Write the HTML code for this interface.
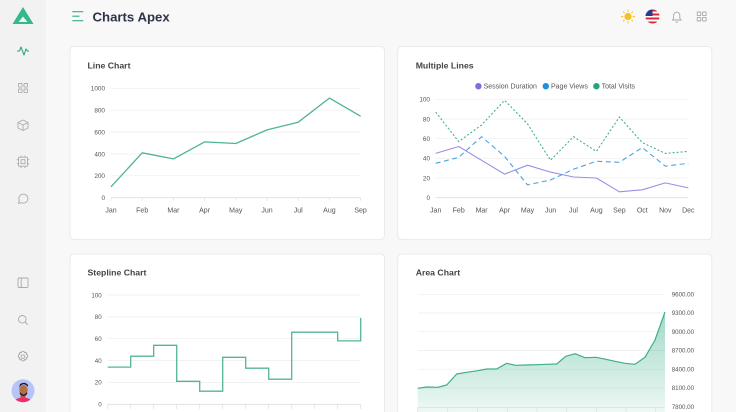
<!DOCTYPE html>
<html><head><meta charset="utf-8"><style>
html,body{margin:0;padding:0;background:#f8f8f8;width:736px;height:412px;overflow:hidden;font-family:"Liberation Sans",sans-serif;}
svg{display:block;}
</style></head><body>
<svg width="736" height="412" viewBox="0 0 736 412" xmlns="http://www.w3.org/2000/svg" font-family="Liberation Sans, sans-serif">
<defs>
<linearGradient id="ag" x1="0" y1="0" x2="0" y2="1">
<stop offset="0" stop-color="#2eaa84" stop-opacity="0.45"/>
<stop offset="1" stop-color="#2eaa84" stop-opacity="0.08"/>
</linearGradient>
<clipPath id="av"><circle cx="23" cy="390.7" r="11.5"/></clipPath>
</defs>
<rect x="0" y="0" width="736" height="412" fill="#f8f8f8"/>
<!-- sidebar -->
<rect x="0" y="0" width="46" height="412" fill="#f2f2f2"/>
<!-- logo -->
<polygon points="23,7 33.5,24 12.5,24" fill="#33b98d"/>
<polygon points="23,16.5 27.5,22 18.5,22" fill="#f2f2f2"/>
<!-- sidebar icons -->
<polyline points="17,51 19.5,51 21,47 24,55 26,49 27.5,51 29,51" fill="none" stroke="#2fa983" stroke-width="1.1" stroke-linejoin="round"/>
<g fill="none" stroke="#aaa" stroke-width="0.9">
<rect x="18.5" y="83.5" width="3.6" height="3.6" rx="0.6"/><rect x="24" y="83.5" width="3.6" height="3.6" rx="0.6"/>
<rect x="18.5" y="89" width="3.6" height="3.6" rx="0.6"/><rect x="24" y="89" width="3.6" height="3.6" rx="0.6"/>
<polygon points="23,120 28,122.5 28,128 23,130.5 18,128 18,122.5"/><polyline points="18,122.5 23,125 28,122.5"/><line x1="23" y1="125" x2="23" y2="130.5"/>
<rect x="18.5" y="157.2" width="9" height="9" rx="1"/><rect x="21" y="159.7" width="4" height="4"/>
<line x1="21" y1="155.5" x2="21" y2="157.2"/><line x1="25" y1="155.5" x2="25" y2="157.2"/><line x1="21" y1="166.2" x2="21" y2="168"/><line x1="25" y1="166.2" x2="25" y2="168"/>
<line x1="16.8" y1="159.7" x2="18.5" y2="159.7"/><line x1="16.8" y1="163.7" x2="18.5" y2="163.7"/><line x1="27.5" y1="159.7" x2="29.2" y2="159.7"/><line x1="27.5" y1="163.7" x2="29.2" y2="163.7"/>
<path d="M18.5,203.5 L19.3,200.5 A4.5,4.5 0 1 1 21.3,202.6 Z"/>
<rect x="18" y="278" width="10" height="9.5" rx="1.2"/><line x1="21.2" y1="278" x2="21.2" y2="287.5"/>
<circle cx="22.3" cy="319.3" r="3.8"/><line x1="25" y1="322" x2="27.8" y2="324.8"/>
<circle cx="23" cy="356.7" r="1.8"/>
<path d="M23,351.3 l1.2,0.3 0.4,1.2 1.2,-0.4 0.9,0.9 -0.4,1.2 1.2,0.4 0.3,1.2 -0.3,1.2 -1.2,0.4 0.4,1.2 -0.9,0.9 -1.2,-0.4 -0.4,1.2 -1.2,0.3 -1.2,-0.3 -0.4,-1.2 -1.2,0.4 -0.9,-0.9 0.4,-1.2 -1.2,-0.4 -0.3,-1.2 0.3,-1.2 1.2,-0.4 -0.4,-1.2 0.9,-0.9 1.2,0.4 0.4,-1.2 z"/>
</g>
<!-- avatar -->
<circle cx="23" cy="390.7" r="11.5" fill="#b7c4f6"/>
<g clip-path="url(#av)">
<ellipse cx="23" cy="404" rx="10" ry="6.5" fill="#f52a6a"/>
<rect x="20.5" y="393" width="5" height="5" fill="#a8613b"/>
<ellipse cx="23.5" cy="390" rx="4.2" ry="5" fill="#b86d42"/>
<path d="M19,388 q4,-7 9,-1 l0,-2 q-3,-4 -8,-1 z" fill="#1e1e2a"/>
<path d="M20,392 q3.5,5 7,0 l0.3,2 q-3.6,4 -7.6,0 z" fill="#1e1e2a"/>
</g>
<!-- header -->
<g stroke="#37a98a" stroke-width="1.1">
<line x1="72.3" y1="11.7" x2="83.3" y2="11.7"/>
<line x1="72.3" y1="16.2" x2="79.5" y2="16.2"/>
<line x1="72.3" y1="20.7" x2="83.3" y2="20.7"/>
</g>
<text x="92.5" y="21.6" font-size="13.2" font-weight="700" fill="#2f3349">Charts Apex</text>
<!-- sun -->
<circle cx="628" cy="16.5" r="3.6" fill="#f9bd25"/>
<g stroke="#f9bd25" stroke-width="1" stroke-linecap="round">
<line x1="628" y1="10" x2="628" y2="11.3"/><line x1="628" y1="21.7" x2="628" y2="23"/>
<line x1="621.5" y1="16.5" x2="622.8" y2="16.5"/><line x1="633.2" y1="16.5" x2="634.5" y2="16.5"/>
<line x1="623.4" y1="11.9" x2="624.3" y2="12.8"/><line x1="631.7" y1="20.2" x2="632.6" y2="21.1"/>
<line x1="623.4" y1="21.1" x2="624.3" y2="20.2"/><line x1="631.7" y1="12.8" x2="632.6" y2="11.9"/>
</g>
<!-- flag -->
<clipPath id="fl"><circle cx="652.5" cy="16.5" r="7"/></clipPath>
<g clip-path="url(#fl)">
<rect x="645" y="9" width="15" height="15" fill="#fff"/>
<rect x="645" y="9.5" width="15" height="2" fill="#d8283c"/>
<rect x="645" y="13.5" width="15" height="2" fill="#d8283c"/>
<rect x="645" y="17.5" width="15" height="2" fill="#d8283c"/>
<rect x="645" y="21.5" width="15" height="2.5" fill="#d8283c"/>
<rect x="645" y="9" width="7.5" height="7" fill="#2b3a8c"/>
</g>
<!-- bell -->
<g fill="none" stroke="#a8a8b4" stroke-width="0.9">
<path d="M672.5,20 h8.5 l-1.2,-1.6 v-3.2 a3.1,3.1 0 0 0 -6.2,0 v3.2 z"/>
<path d="M675.7,21.6 a1.2,1.2 0 0 0 2.2,0"/>
<rect x="697.2" y="12" width="3.6" height="3.6" rx="0.5"/><rect x="702.6" y="12" width="3.6" height="3.6" rx="0.5"/>
<rect x="697.2" y="17.4" width="3.6" height="3.6" rx="0.5"/><rect x="702.6" y="17.4" width="3.6" height="3.6" rx="0.5"/>
</g>

<!-- cards -->
<g fill="#fff" stroke="#e6e6e8" stroke-width="0.8">
<rect x="70" y="46.5" width="314.5" height="193" rx="4"/>
<rect x="397.8" y="46.5" width="314" height="193" rx="4"/>
<rect x="70" y="254" width="314.5" height="170" rx="4"/>
<rect x="397.8" y="254" width="314" height="170" rx="4"/>
</g>
<g font-size="8.7" font-weight="700" fill="#444">
<text x="87.5" y="68.3">Line Chart</text>
<text x="415.7" y="68.3">Multiple Lines</text>
<text x="87.5" y="275.3">Stepline Chart</text>
<text x="415.7" y="275.3">Area Chart</text>
</g>

<!-- LINE CHART -->
<g stroke="#ededed" stroke-width="0.7">
<line x1="111" y1="88.3" x2="360.6" y2="88.3"/>
<line x1="111" y1="110.2" x2="360.6" y2="110.2"/>
<line x1="111" y1="132.1" x2="360.6" y2="132.1"/>
<line x1="111" y1="154" x2="360.6" y2="154"/>
<line x1="111" y1="175.8" x2="360.6" y2="175.8"/>
</g>
<line x1="111" y1="197.7" x2="360.6" y2="197.7" stroke="#dedede" stroke-width="0.8"/>
<g stroke="#dedede" stroke-width="0.7">
<line x1="111" y1="197.7" x2="111" y2="200.7"/><line x1="142.2" y1="197.7" x2="142.2" y2="200.7"/><line x1="173.4" y1="197.7" x2="173.4" y2="200.7"/><line x1="204.6" y1="197.7" x2="204.6" y2="200.7"/><line x1="235.8" y1="197.7" x2="235.8" y2="200.7"/><line x1="267" y1="197.7" x2="267" y2="200.7"/><line x1="298.2" y1="197.7" x2="298.2" y2="200.7"/><line x1="329.4" y1="197.7" x2="329.4" y2="200.7"/><line x1="360.6" y1="197.7" x2="360.6" y2="200.7"/>
</g>
<g font-size="6.4" fill="#555" text-anchor="end">
<text x="105" y="90.6">1000</text><text x="105" y="112.5">800</text><text x="105" y="134.4">600</text><text x="105" y="156.3">400</text><text x="105" y="178.1">200</text><text x="105" y="200">0</text>
</g>
<g font-size="7" fill="#555" text-anchor="middle">
<text x="111" y="212.5">Jan</text><text x="142.2" y="212.5">Feb</text><text x="173.4" y="212.5">Mar</text><text x="204.6" y="212.5">Apr</text><text x="235.8" y="212.5">May</text><text x="267" y="212.5">Jun</text><text x="298.2" y="212.5">Jul</text><text x="329.4" y="212.5">Aug</text><text x="360.6" y="212.5">Sep</text>
</g>
<polyline points="111,186.8 142.2,152.8 173.4,158.9 204.6,141.9 235.8,143.5 267,129.9 298.2,122.2 329.4,98.1 360.6,116.2" fill="none" stroke="#4fb594" stroke-width="1.3" stroke-linejoin="round"/>

<!-- MULTIPLE LINES -->
<g stroke="#efefef" stroke-width="0.7">
<line x1="435.7" y1="99.3" x2="688.3" y2="99.3"/>
<line x1="435.7" y1="119" x2="688.3" y2="119"/>
<line x1="435.7" y1="138.7" x2="688.3" y2="138.7"/>
<line x1="435.7" y1="158.4" x2="688.3" y2="158.4"/>
<line x1="435.7" y1="178" x2="688.3" y2="178"/>
</g>
<line x1="435.7" y1="197.7" x2="688.3" y2="197.7" stroke="#dedede" stroke-width="0.8"/>
<g font-size="6.4" fill="#555" text-anchor="end">
<text x="430" y="101.6">100</text><text x="430" y="121.3">80</text><text x="430" y="141">60</text><text x="430" y="160.7">40</text><text x="430" y="180.3">20</text><text x="430" y="200">0</text>
</g>
<g font-size="7" fill="#555" text-anchor="middle">
<text x="435.7" y="212.5">Jan</text><text x="458.7" y="212.5">Feb</text><text x="481.6" y="212.5">Mar</text><text x="504.6" y="212.5">Apr</text><text x="527.5" y="212.5">May</text><text x="550.5" y="212.5">Jun</text><text x="573.5" y="212.5">Jul</text><text x="596.4" y="212.5">Aug</text><text x="619.4" y="212.5">Sep</text><text x="642.3" y="212.5">Oct</text><text x="665.3" y="212.5">Nov</text><text x="688.3" y="212.5">Dec</text>
</g>
<!-- legend -->
<circle cx="478.4" cy="86.2" r="3.2" fill="#7d6fe3"/>
<circle cx="545.8" cy="86.2" r="3.2" fill="#1e90e0"/>
<circle cx="596.4" cy="86.2" r="3.2" fill="#27a380"/>
<g font-size="7" fill="#555">
<text x="483.6" y="88.7">Session Duration</text>
<text x="551" y="88.7">Page Views</text>
<text x="601.6" y="88.7">Total Visits</text>
</g>
<polyline points="435.7,153.4 458.7,146.5 481.6,160.3 504.6,174.1 527.5,165.2 550.5,172.1 573.5,177 596.4,178 619.4,191.8 642.3,189.8 665.3,182.9 688.3,187.9" fill="none" stroke="#9a8fe6" stroke-width="1.1" stroke-linejoin="round"/>
<polyline points="435.7,163.3 458.7,157.4 481.6,136.7 504.6,156.4 527.5,184.9 550.5,180 573.5,169.2 596.4,161.3 619.4,162.3 642.3,147.5 665.3,166.2 688.3,163.3" fill="none" stroke="#4aa5e3" stroke-width="1.1" stroke-dasharray="5 3.5"/>
<polyline points="435.7,112.1 458.7,141.6 481.6,124.9 504.6,100.3 527.5,123.9 550.5,160.3 573.5,136.7 596.4,151.4 619.4,117 642.3,142.6 665.3,153.4 688.3,151.4" fill="none" stroke="#45b18f" stroke-width="1.1" stroke-dasharray="2 2"/>

<!-- STEPLINE -->
<g stroke="#ededed" stroke-width="0.7">
<line x1="107.7" y1="295" x2="360.7" y2="295"/>
<line x1="107.7" y1="316.9" x2="360.7" y2="316.9"/>
<line x1="107.7" y1="338.7" x2="360.7" y2="338.7"/>
<line x1="107.7" y1="360.6" x2="360.7" y2="360.6"/>
<line x1="107.7" y1="382.4" x2="360.7" y2="382.4"/>
</g>
<line x1="107.7" y1="404.3" x2="360.7" y2="404.3" stroke="#dedede" stroke-width="0.8"/>
<g stroke="#dedede" stroke-width="0.7">
<line x1="107.7" y1="404.3" x2="107.7" y2="409"/><line x1="130.7" y1="404.3" x2="130.7" y2="409"/><line x1="153.7" y1="404.3" x2="153.7" y2="409"/><line x1="176.7" y1="404.3" x2="176.7" y2="409"/><line x1="199.7" y1="404.3" x2="199.7" y2="409"/><line x1="222.7" y1="404.3" x2="222.7" y2="409"/><line x1="245.7" y1="404.3" x2="245.7" y2="409"/><line x1="268.7" y1="404.3" x2="268.7" y2="409"/><line x1="291.7" y1="404.3" x2="291.7" y2="409"/><line x1="314.7" y1="404.3" x2="314.7" y2="409"/><line x1="337.7" y1="404.3" x2="337.7" y2="409"/><line x1="360.7" y1="404.3" x2="360.7" y2="409"/>
</g>
<g font-size="6.2" fill="#555" text-anchor="end">
<text x="101.7" y="297.3">100</text><text x="101.7" y="319.2">80</text><text x="101.7" y="341">60</text><text x="101.7" y="362.9">40</text><text x="101.7" y="384.7">20</text><text x="101.7" y="406.6">0</text>
</g>
<path d="M107.7,367.1 H130.7 V356.2 H153.7 V345.3 H176.7 V381.3 H199.7 V391.2 H222.7 V357.3 H245.7 V368.2 H268.7 V379.2 H291.7 V332.2 H337.7 V340.9 H360.7 V317.9" fill="none" stroke="#54b597" stroke-width="1.3"/>

<!-- AREA CHART -->
<g stroke="#ededed" stroke-width="0.7">
<line x1="417.7" y1="294.3" x2="665" y2="294.3"/>
<line x1="417.7" y1="313" x2="665" y2="313"/>
<line x1="417.7" y1="331.8" x2="665" y2="331.8"/>
<line x1="417.7" y1="350.5" x2="665" y2="350.5"/>
<line x1="417.7" y1="369.2" x2="665" y2="369.2"/>
<line x1="417.7" y1="388" x2="665" y2="388"/>
</g>
<path d="M417.7,388.3 L426.7,387 L437.7,387.3 L446.7,385 L456.7,374 L466.7,372.3 L477.7,370.7 L486.7,369 L496.7,369 L506.7,363.3 L515.7,365.3 L526.7,365 L536.7,364.7 L546.7,364.3 L556.7,364 L565.7,356.3 L575,353.7 L585,357.7 L596,357.3 L606,359.3 L615,361.3 L625,363.3 L635,364.3 L645,357.3 L655,340 L665,312 L665,412 L417.7,412 Z" fill="url(#ag)"/>
<polyline points="417.7,388.3 426.7,387 437.7,387.3 446.7,385 456.7,374 466.7,372.3 477.7,370.7 486.7,369 496.7,369 506.7,363.3 515.7,365.3 526.7,365 536.7,364.7 546.7,364.3 556.7,364 565.7,356.3 575,353.7 585,357.7 596,357.3 606,359.3 615,361.3 625,363.3 635,364.3 645,357.3 655,340 665,312" fill="none" stroke="#3fae8b" stroke-width="1.2" stroke-linejoin="round"/>
<line x1="417.7" y1="407.5" x2="665" y2="407.5" stroke="#dedede" stroke-width="0.8"/>
<g stroke="#dedede" stroke-width="0.7">
<line x1="417.7" y1="407.5" x2="417.7" y2="412"/><line x1="447.7" y1="407.5" x2="447.7" y2="412"/><line x1="477.7" y1="407.5" x2="477.7" y2="412"/><line x1="507.7" y1="407.5" x2="507.7" y2="412"/><line x1="537" y1="407.5" x2="537" y2="412"/><line x1="566.7" y1="407.5" x2="566.7" y2="412"/><line x1="596.3" y1="407.5" x2="596.3" y2="412"/><line x1="626" y1="407.5" x2="626" y2="412"/><line x1="655.7" y1="407.5" x2="655.7" y2="412"/>
</g>
<g font-size="6.2" fill="#555">
<text x="671.7" y="296.5">9600.00</text><text x="671.7" y="315.2">9300.00</text><text x="671.7" y="334">9000.00</text><text x="671.7" y="352.7">8700.00</text><text x="671.7" y="371.4">8400.00</text><text x="671.7" y="390.2">8100.00</text><text x="671.7" y="408.9">7800.00</text>
</g>
</svg>
</body></html>
